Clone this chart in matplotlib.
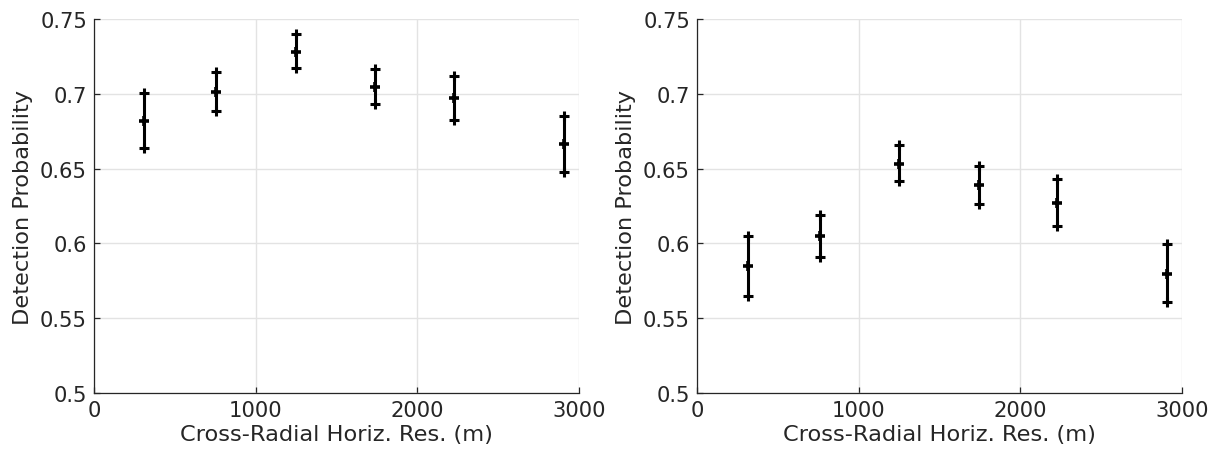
import matplotlib
matplotlib.use("Agg")
import matplotlib.pyplot as plt
import numpy as np

# horizontal resolution bins (m)
res_left = [311, 754, 1249, 1738, 2230, 2907]
res_right = [317, 763, 1251, 1742, 2228, 2909]

# detection probability with lower / upper bounds
pd_left = [0.6818, 0.7009, 0.7280, 0.7047, 0.6971, 0.6662]
lo_left = [0.6638, 0.6885, 0.7171, 0.6931, 0.6824, 0.6480]
hi_left = [0.7007, 0.7144, 0.7398, 0.7167, 0.7122, 0.6851]

pd_right = [0.5849, 0.6049, 0.6533, 0.6389, 0.6271, 0.5795]
lo_right = [0.5651, 0.5911, 0.6415, 0.6265, 0.6115, 0.5607]
hi_right = [0.6051, 0.6189, 0.6655, 0.6518, 0.6433, 0.5996]

yticks = [0.5, 0.55, 0.6, 0.65, 0.7, 0.75]
ytick_labels = ["0.5", "0.55", "0.6", "0.65", "0.7", "0.75"]
xticks = [0, 1000, 2000, 3000]

txt = "#262626"
plt.rcParams['font.family'] = ['DejaVu Sans']

fig = plt.figure(figsize=(12.17, 4.6), dpi=100)
ax1 = fig.add_axes([0.0772, 0.1435, 0.3985, 0.813])
ax2 = fig.add_axes([0.5727, 0.1435, 0.3985, 0.813])


def draw_panel(ax, x, y, lo, hi):
    x = np.array(x)
    y = np.array(y)
    lo = np.array(lo)
    hi = np.array(hi)
    err = np.vstack([y - lo, hi - y])
    ax.errorbar(x, y, yerr=err, fmt='none', ecolor='black', elinewidth=2.2,
                capsize=0, zorder=3)
    # centre value and the two bounds drawn as plus signs
    ax.plot(x, y, '+', color='black', markersize=7.5, mew=2.6, zorder=4)
    ax.plot(x, lo, '+', color='black', markersize=6.5, mew=2.2, zorder=4)
    ax.plot(x, hi, '+', color='black', markersize=6.5, mew=2.2, zorder=4)

    ax.set_xlim(0, 3000)
    ax.set_ylim(0.5, 0.75)
    ax.set_xticks(xticks)
    ax.set_yticks(yticks)
    ax.set_yticklabels(ytick_labels)
    ax.grid(True, color="#e3e3e3", linewidth=1.0)
    ax.set_axisbelow(True)
    for s in ['top', 'right']:
        ax.spines[s].set_visible(False)
    for s in ['left', 'bottom']:
        ax.spines[s].set_color(txt)
        ax.spines[s].set_linewidth(0.9)
    ax.tick_params(direction='in', length=4, width=0.9, colors=txt,
                   labelsize=15.2, pad=5)
    ax.set_xlabel("Cross-Radial Horiz. Res. (m)", fontsize=16.2, color=txt, labelpad=3)
    ax.set_ylabel("Detection Probability", fontsize=16.2, color=txt, labelpad=5)


draw_panel(ax1, res_left, pd_left, lo_left, hi_left)
draw_panel(ax2, res_right, pd_right, lo_right, hi_right)

fig.savefig("out.png", dpi=100)
